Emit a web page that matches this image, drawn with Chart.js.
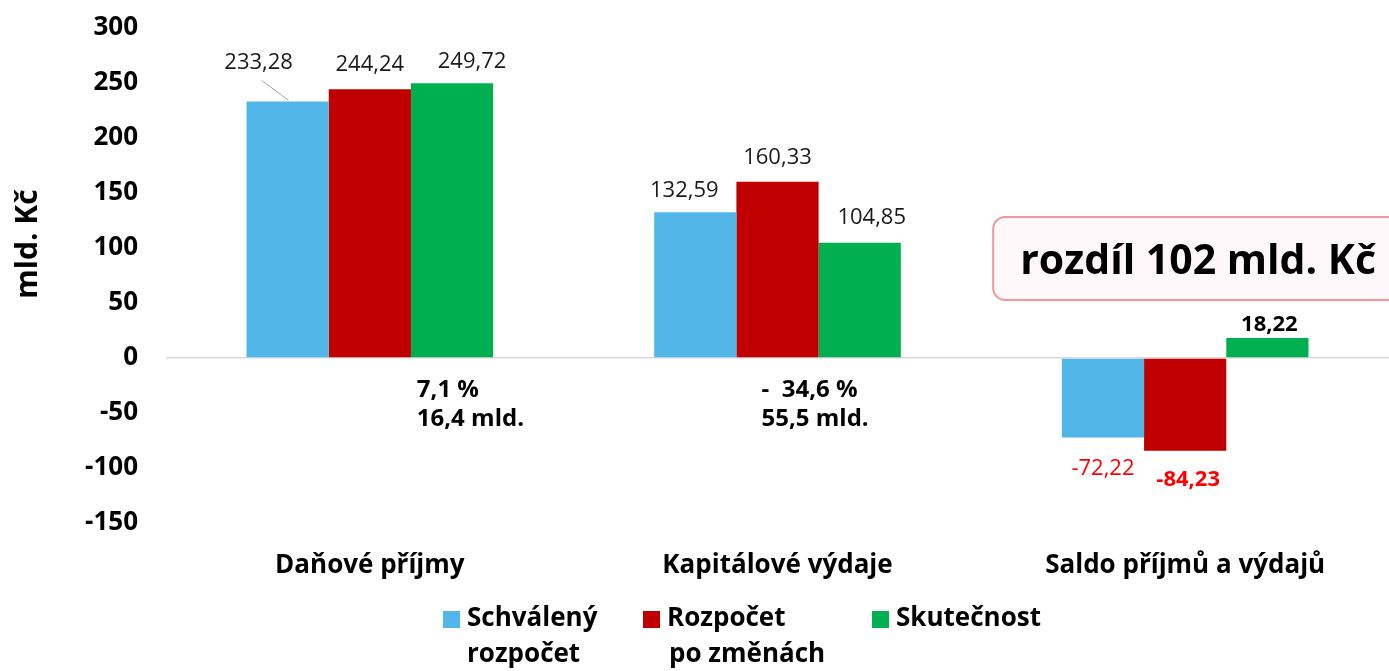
<!DOCTYPE html>
<html>
<head>
<meta charset="utf-8">
<script src="https://cdn.jsdelivr.net/npm/chart.js@4/dist/chart.umd.min.js"></script>
<style>
  html, body { margin: 0; padding: 0; background: #fff; }
</style>
</head>
<body>
<canvas id="graf" width="1389" height="671"></canvas>
<script>
// data (mld. Kč)
const kategorie = ["Daňové příjmy", "Kapitálové výdaje", "Saldo příjmů a výdajů"];
const schvaleny = [233.28, 132.59, -72.22];
const poZmenach = [244.24, 160.33, -84.23];
const skutecnost = [249.72, 104.85, 18.22];
const nazvyRad = [["Schválený", "rozpočet"], ["Rozpočet", "po změnách"], ["Skutečnost"]];
const rozdily = [["7,1 %", "16,4 mld."], ["-  34,6 %", "55,5 mld."]];
const textSaldo = "rozdíl 102 mld. Kč";
const titulekY = "mld. Kč";

const barvy = ["#52B6E8", "#C00000", "#00B050"];
const FONT = "'Open Sans', sans-serif";

// posuny popisku [dx, dy] od konce sloupce, klic kategorie-rada
const posuny = {
  "0-0": [-29, -39], "0-1": [0, -25], "0-2": [20, -22],
  "1-0": [-11, -21], "1-1": [0, -24], "1-2": [12, -25],
  "2-0": [0, 31], "2-1": [3, 29], "2-2": [2, -13]
};

function cislo(v) {
  return v.toFixed(2).replace(".", ",");
}

const popisky = {
  id: "popisky",
  afterDatasetsDraw(chart) {
    const ctx = chart.ctx;
    ctx.save();
    ctx.textAlign = "center";
    ctx.textBaseline = "middle";
    chart.data.datasets.forEach((ds, d) => {
      chart.getDatasetMeta(d).data.forEach((bar, i) => {
        const v = ds.data[i];
        const p = posuny[i + "-" + d] || [0, -23];
        let barva = "#1a1a1a", tucne = false;
        if (v < 0) { barva = "#FF0000"; tucne = d === 1; }
        if (d === 2 && i === 2) { tucne = true; barva = "#000"; }
        ctx.font = (tucne ? "bold " : "") + "22px " + FONT;
        ctx.fillStyle = barva;
        const x = bar.x + p[0], y = bar.y + p[1];
        ctx.fillText(cislo(v), x, y);
        if (d === 0 && i === 0) {
          // odkazova cara
          ctx.strokeStyle = "#a6a6a6";
          ctx.lineWidth = 1;
          ctx.beginPath();
          ctx.moveTo(x + 3, y + 18);
          ctx.lineTo(bar.x + 1, bar.y - 1);
          ctx.stroke();
        }
      });
    });

    // rozdily pod kategoriemi
    const sx = chart.scales.x;
    const y0 = chart.scales.y.getPixelForValue(0);
    const odsazeni = [47, -16];
    ctx.textAlign = "left";
    ctx.fillStyle = "#000";
    ctx.font = "bold 24px " + FONT;
    rozdily.forEach((r, i) => {
      r.forEach((t, j) => ctx.fillText(t, sx.getPixelForValue(i) + odsazeni[i], y0 + 32 + j * 29));
    });

    // ramecek se saldem
    const bx = sx.getPixelForValue(2) - 192;
    ctx.beginPath();
    ctx.roundRect(bx, 217, 430, 83, 12);
    ctx.fillStyle = "#FFF8FA";
    ctx.fill();
    ctx.strokeStyle = "#F2979B";
    ctx.lineWidth = 2;
    ctx.stroke();
    ctx.fillStyle = "#000";
    ctx.textAlign = "center";
    ctx.textBaseline = "alphabetic";
    ctx.font = "bold 41px " + FONT;
    ctx.fillText(textSaldo, bx + 205, 274);
    ctx.restore();
  },
  afterDraw(chart) {
    const ctx = chart.ctx;
    ctx.save();
    // titulek osy y
    ctx.translate(28, 244);
    ctx.rotate(-Math.PI / 2);
    ctx.font = "bold 30px " + FONT;
    ctx.fillStyle = "#000";
    ctx.textAlign = "center";
    ctx.textBaseline = "middle";
    ctx.fillText(titulekY, 0, 0);
    ctx.restore();

    // legenda
    ctx.save();
    const lx = [443, 643, 872];
    ctx.font = "bold 26px " + FONT;
    ctx.textBaseline = "middle";
    ctx.textAlign = "left";
    nazvyRad.forEach((radky, i) => {
      ctx.fillStyle = barvy[i];
      ctx.fillRect(lx[i], 611, 17, 17);
      ctx.fillStyle = "#000";
      radky.forEach((t, j) => ctx.fillText(t, lx[i] + 24 + (j ? [0, 2, 0][i] : 0), 619 + j * 36));
    });
    ctx.restore();
  }
};

new Chart(document.getElementById("graf"), {
  type: "bar",
  data: {
    labels: kategorie,
    datasets: [
      { label: nazvyRad[0].join(" "), data: schvaleny, backgroundColor: barvy[0] },
      { label: nazvyRad[1].join(" "), data: poZmenach, backgroundColor: barvy[1] },
      { label: nazvyRad[2].join(" "), data: skutecnost, backgroundColor: barvy[2] }
    ]
  },
  options: {
    responsive: false,
    animation: false,
    categoryPercentage: 0.605,
    barPercentage: 1,
    layout: { padding: { top: 28, left: 0, right: 0, bottom: 88 } },
    plugins: { legend: { display: false }, tooltip: { enabled: false } },
    scales: {
      x: {
        afterFit(s) { s.height = 60; },
        grid: { display: false, drawTicks: false },
        border: { display: false },
        ticks: { color: "#000", font: { family: FONT, size: 26, weight: "bold" }, padding: 27 }
      },
      y: {
        min: -150,
        max: 300,
        afterFit(s) { s.width = 166; s.paddingTop = 0; s.paddingBottom = 0; },
        grid: {
          drawTicks: false,
          color: c => (c.tick && c.tick.value === 0 ? "#d9d9d9" : "rgba(0,0,0,0)"),
          lineWidth: 1.5
        },
        border: { display: false },
        ticks: { stepSize: 50, color: "#000", font: { family: FONT, size: 26, weight: "bold" }, padding: 28 }
      }
    }
  },
  plugins: [popisky]
});
</script>
</body>
</html>
